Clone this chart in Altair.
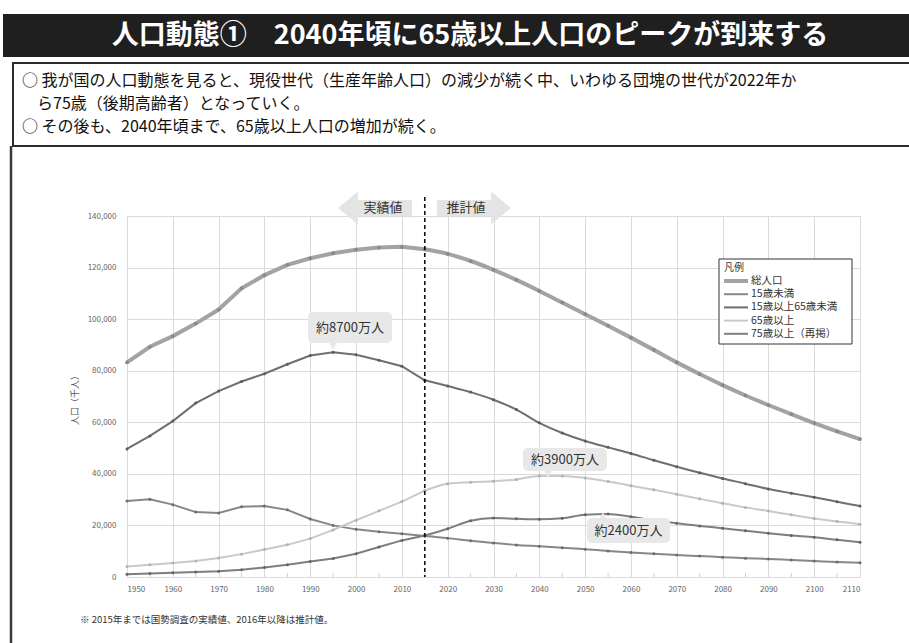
import altair as alt
import pandas as pd

# ---- population data (thousands) ----
years_hist = [1950, 1955, 1960, 1965, 1970, 1975, 1980, 1985, 1990, 1995, 2000, 2005, 2010, 2015]
years_proj = [2015, 2020, 2025, 2030, 2035, 2040, 2045, 2050, 2055, 2060,
              2065, 2070, 2075, 2080, 2085, 2090, 2095, 2100, 2105, 2110]

series_names = ["総人口", "15歳未満", "15歳以上65歳未満", "65歳以上", "75歳以上（再掲）"]

total_hist = [83200, 89276, 93419, 98275, 103720, 111940, 117060, 121049, 123611, 125570, 126926, 127768, 128057, 127095]
u15_hist = [29428, 30123, 28067, 25166, 24823, 27221, 27507, 26033, 22486, 20014, 18472, 17521, 16803, 15887]
work_hist = [49658, 54729, 60469, 67444, 72119, 75807, 78835, 82506, 85904, 87165, 86220, 84092, 81735, 76289]
o65_hist = [4109, 4747, 5398, 6181, 7331, 8865, 10647, 12468, 14895, 18261, 22005, 25672, 29246, 33465]
o75_hist = [1069, 1388, 1642, 1894, 2237, 2841, 3660, 4712, 5973, 7170, 9009, 11639, 14194, 16125]

total_proj = [127095, 125325, 122544, 119125, 115216, 110919, 106421, 101923, 97441, 92840,
              88077, 83227, 78700, 74400, 70400, 66700, 63200, 59700, 56500, 53500]
u15_proj = [15887, 15075, 14073, 13212, 12457, 11936, 11384, 10767, 10123, 9508,
            8975, 8500, 8100, 7700, 7300, 7000, 6600, 6200, 5800, 5500]
work_proj = [76289, 74058, 71701, 68754, 64942, 59777, 55845, 52750, 50276, 47928,
             45291, 42750, 40400, 38200, 36200, 34100, 32500, 30900, 29200, 27500]
o65_proj = [33465, 36192, 36771, 37160, 37817, 39206, 39192, 38406, 37042, 35403,
            33810, 32100, 30300, 28600, 27000, 25600, 24100, 22700, 21500, 20500]
o75_proj = [16125, 18720, 21800, 22880, 22597, 22392, 22767, 24175, 24460, 23362,
            21988, 20800, 19800, 18900, 17900, 16950, 16100, 15400, 14400, 13500]

x_ticks = [1950, 1960, 1970, 1980, 1990, 2000, 2010, 2020, 2030, 2040, 2050, 2060, 2070, 2080, 2090, 2100, 2110]
x_minor = [1955, 1965, 1975, 1985, 1995, 2005, 2015, 2025, 2035, 2045, 2055, 2065, 2075, 2085, 2095, 2105]
y_ticks = [0, 20000, 40000, 60000, 80000, 100000, 120000, 140000]

# ---- styling ----
FONT = "Noto Sans CJK JP"
line_colors = ["#a3a3a3", "#878787", "#6f6f6f", "#c9c9c9", "#7e7e7e"]
dot_colors = ["#8a8a8a", "#6e6e6e", "#5c5c5c", "#b2b2b2", "#666666"]
line_widths = [4, 2, 2, 2, 2]
dot_sizes = [14, 9, 9, 9, 9]

hist_sets = [total_hist, u15_hist, work_hist, o65_hist, o75_hist]
proj_sets = [total_proj, u15_proj, work_proj, o65_proj, o75_proj]

rows = []
for i, name in enumerate(series_names):
    for yr, v in zip(years_hist, hist_sets[i]):
        rows.append({"year": yr, "value": v, "series": name, "period": "実績",
                     "lw": line_widths[i], "ms": dot_sizes[i]})
    for yr, v in zip(years_proj, proj_sets[i]):
        rows.append({"year": yr, "value": v, "series": name, "period": "推計",
                     "lw": line_widths[i], "ms": dot_sizes[i]})
df = pd.DataFrame(rows)

W, H = 733, 361

x_enc = alt.X("year:Q",
              scale=alt.Scale(domain=[1950, 2110], nice=False, zero=False),
              axis=alt.Axis(values=x_ticks, format="d", title=None, grid=True,
                            gridColor="#dadada", gridWidth=1, domain=False, ticks=False,
                            labelFontSize=8, labelColor="#666666", labelPadding=8,
                            labelFont=FONT))
y_enc = alt.Y("value:Q",
              scale=alt.Scale(domain=[0, 140000], nice=False),
              axis=alt.Axis(values=y_ticks, format=",d", title=None, grid=True,
                            gridColor="#dadada", gridWidth=1, domain=False, ticks=False,
                            labelFontSize=8, labelColor="#666666", labelPadding=11,
                            labelFont=FONT))
color_line = alt.Color("series:N", scale=alt.Scale(domain=series_names, range=line_colors), legend=None)

one = alt.Data(values=[{"k": 1}])

hist_lines = alt.Chart(df).transform_filter("datum.period == '実績'").mark_line(
    interpolate="linear").encode(
    x=x_enc, y=y_enc, color=color_line, strokeWidth=alt.StrokeWidth("lw:Q", scale=None),
    detail="series:N")
proj_lines = alt.Chart(df).transform_filter("datum.period == '推計'").mark_line(
    interpolate="monotone").encode(
    x=x_enc, y=y_enc, color=color_line, strokeWidth=alt.StrokeWidth("lw:Q", scale=None),
    detail="series:N")
dots = alt.Chart(df).mark_circle(opacity=1).encode(
    x=x_enc, y=y_enc,
    fill=alt.Fill("series:N", scale=alt.Scale(domain=series_names, range=dot_colors), legend=None),
    size=alt.Size("ms:Q", scale=None))

minor_ticks = alt.Chart(pd.DataFrame({"year": x_minor})).mark_rule(
    color="#cfcfcf", strokeWidth=1).encode(x=x_enc, y=alt.value(H - 4), y2=alt.value(H))

# boundary between census values and projections
divider = alt.Chart(pd.DataFrame({"year": [2015]})).mark_rule(
    color="#111111", strokeDash=[4, 3], strokeWidth=1.6).encode(
    x=x_enc, y=alt.value(-19), y2=alt.value(H))

# ---- 実績値 / 推計値 arrows ----
ARROW_FILL = "#e4e4e4"
left_head = "M 0.6 -1 L -0.6 0 L 0.6 1 Z"
right_head = "M -0.6 -1 L 0.6 0 L -0.6 1 Z"
arrow_layers = [
    alt.Chart(one).mark_rect(fill=ARROW_FILL).encode(
        x=alt.value(230), x2=alt.value(285), y=alt.value(-16), y2=alt.value(0)),
    alt.Chart(one).mark_point(shape=left_head, filled=True, size=1089, color=ARROW_FILL,
                              opacity=1, strokeWidth=0).encode(x=alt.value(221), y=alt.value(-8)),
    alt.Chart(one).mark_text(text="実績値", fontSize=13, font=FONT, color="#333333",
                             align="center", baseline="middle").encode(x=alt.value(256), y=alt.value(-8)),
    alt.Chart(one).mark_rect(fill=ARROW_FILL).encode(
        x=alt.value(310), x2=alt.value(365), y=alt.value(-16), y2=alt.value(0)),
    alt.Chart(one).mark_point(shape=right_head, filled=True, size=1089, color=ARROW_FILL,
                              opacity=1, strokeWidth=0).encode(x=alt.value(374), y=alt.value(-8)),
    alt.Chart(one).mark_text(text="推計値", fontSize=13, font=FONT, color="#333333",
                             align="center", baseline="middle").encode(x=alt.value(339), y=alt.value(-8)),
]

# ---- callouts ----
BOX_FILL = "#e8e8e8"
def man(v):
    return f"約{round(v / 1000) * 100}万人"

peak_work = max(work_hist)
peak_o65 = max(o65_proj)
peak_o75 = o75_proj[years_proj.index(2055)]

down_tip = "M -1 -1 L 1 -1 L 0 1 Z"
up_tip = "M -1 1 L 1 1 L 0 -1 Z"

def callout(label, x1, x2, y1, y2, tip_x, tip_y, tip_shape):
    return [
        alt.Chart(one).mark_rect(fill=BOX_FILL, cornerRadius=5).encode(
            x=alt.value(x1), x2=alt.value(x2), y=alt.value(y1), y2=alt.value(y2)),
        alt.Chart(one).mark_point(shape=tip_shape, filled=True, size=64, color=BOX_FILL,
                                  opacity=1, strokeWidth=0).encode(x=alt.value(tip_x), y=alt.value(tip_y)),
        alt.Chart(one).mark_text(text=label, fontSize=13, font=FONT, color="#333333",
                                 align="center", baseline="middle").encode(
            x=alt.value((x1 + x2) / 2), y=alt.value((y1 + y2) / 2)),
    ]

callouts = (callout(man(peak_work), 181, 265, 96, 127, 206, 130, down_tip)
            + callout(man(peak_o65), 396, 480, 232, 255, 421, 258, down_tip)
            + callout(man(peak_o75), 460, 543, 302, 327, 476, 300, up_tip))

# ---- legend box ----
leg = pd.DataFrame({"series": series_names, "row": list(range(len(series_names))),
                    "lw": line_widths})
leg["ly"] = 65 + leg["row"] * 13.2
legend_layers = [
    alt.Chart(one).mark_rect(fill="white", stroke="#333333", strokeWidth=1).encode(
        x=alt.value(592), x2=alt.value(725), y=alt.value(43), y2=alt.value(128)),
    alt.Chart(one).mark_text(text="凡例", fontSize=10, font=FONT, color="#333333",
                             align="left", baseline="middle").encode(x=alt.value(597), y=alt.value(52)),
    alt.Chart(leg).mark_rule().encode(
        x=alt.value(597), x2=alt.value(621), y=alt.Y("ly:Q", scale=None, axis=None),
        color=color_line, strokeWidth=alt.StrokeWidth("lw:Q", scale=None)),
    alt.Chart(leg).mark_text(fontSize=10.5, font=FONT, color="#333333", align="left",
                             baseline="middle").encode(
        x=alt.value(624), y=alt.Y("ly:Q", scale=None, axis=None), text="series:N"),
]

# ---- slide frame, heading and notes ----
BODY = 16
frame_layers = [
    alt.Chart(one).mark_rect(fill="#1f1f1f").encode(
        x=alt.value(-124), x2=alt.value(790), y=alt.value(-202), y2=alt.value(-159)),
    alt.Chart(one).mark_text(text="人口動態①　2040年頃に65歳以上人口のピークが到来する",
                             fontSize=27, fontWeight="bold", font=FONT, color="white",
                             align="center", baseline="middle").encode(x=alt.value(343), y=alt.value(-180)),
    alt.Chart(one).mark_rect(fill="white", stroke="#2b2b2b", strokeWidth=2).encode(
        x=alt.value(-114), x2=alt.value(800), y=alt.value(-153), y2=alt.value(-70)),
    alt.Chart(one).mark_rule(color="#3a3a3a", strokeWidth=2.5).encode(
        x=alt.value(-116), y=alt.value(-70), y2=alt.value(430)),
    alt.Chart(one).mark_text(text="○ 我が国の人口動態を見ると、現役世代（生産年齢人口）の減少が続く中、いわゆる団塊の世代が2022年か",
                             fontSize=BODY, font=FONT, color="#111111", align="left",
                             baseline="middle").encode(x=alt.value(-105), y=alt.value(-135)),
    alt.Chart(one).mark_text(text="ら75歳（後期高齢者）となっていく。",
                             fontSize=BODY, font=FONT, color="#111111", align="left",
                             baseline="middle").encode(x=alt.value(-90), y=alt.value(-112)),
    alt.Chart(one).mark_text(text="○ その後も、2040年頃まで、65歳以上人口の増加が続く。",
                             fontSize=BODY, font=FONT, color="#111111", align="left",
                             baseline="middle").encode(x=alt.value(-105), y=alt.value(-89)),
    alt.Chart(one).mark_text(text="人口（千人）", angle=270, fontSize=9, font=FONT,
                             color="#555555", align="center", baseline="middle").encode(
        x=alt.value(-52), y=alt.value(182)),
    alt.Chart(one).mark_text(text="※ 2015年までは国勢調査の実績値、2016年以降は推計値。",
                             fontSize=9.5, font=FONT, color="#333333", align="left",
                             baseline="middle").encode(x=alt.value(-47), y=alt.value(404)),
]

chart = alt.layer(
    minor_ticks, hist_lines, proj_lines, dots, divider,
    *arrow_layers, *callouts, *legend_layers, *frame_layers
).properties(
    width=W, height=H,
    autosize=alt.AutoSizeParams(type="none"),
    padding={"left": 127, "top": 216, "right": 49, "bottom": 66},
    background="white",
).configure_view(stroke=None).configure(font=FONT)

chart.save("out.html", embed_options={"renderer": "svg", "actions": False})
